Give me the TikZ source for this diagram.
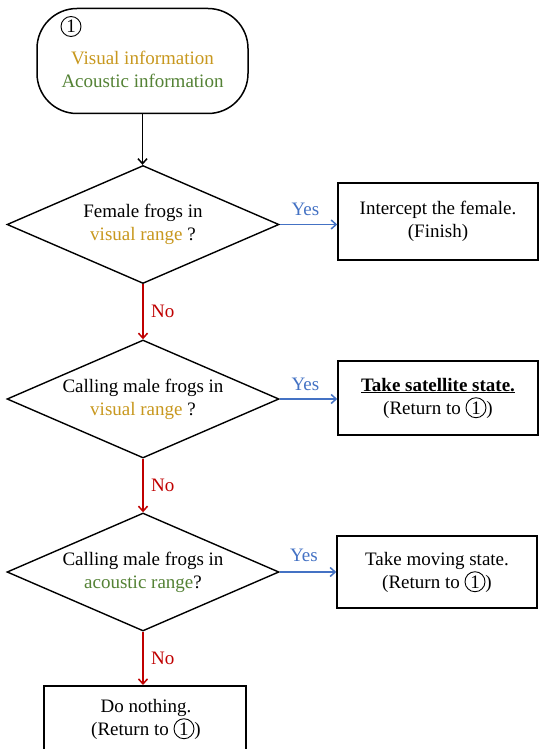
\documentclass[tikz,border=0pt]{standalone}
\usepackage{fontspec}
\setmainfont{Liberation Serif}
\usetikzlibrary{shapes.geometric,arrows.meta}
\definecolor{vis}{RGB}{200,152,30}
\definecolor{aco}{RGB}{84,130,53}
\definecolor{yesblue}{RGB}{68,114,196}
\definecolor{nored}{RGB}{192,0,0}
\newcommand{\cone}{\tikz[baseline=(cc.base)]\node[circle,draw=black,line width=0.9pt,inner sep=0pt,minimum size=20pt,text=black](cc){1};}
\begin{document}
\begin{tikzpicture}[x=1pt,y=-1pt,
 txt/.style={font=\fontsize{19}{23}\selectfont, align=center},
 term/.style={draw,line width=1.5pt,rounded corners=40pt,minimum width=211pt,minimum height=105pt,inner sep=0pt},
 dec/.style={txt,draw,diamond,shape aspect=2.3,minimum width=272pt,minimum height=118pt,inner sep=0pt,line width=1.4pt},
 act/.style={txt,draw,line width=1.5pt,minimum width=200pt,inner sep=0pt},
 flow/.style={line width=1.5pt,-{Straight Barb[length=5pt,width=9pt]}},
 yesarrow/.style={flow,yesblue},
 noarrow/.style={flow,nored},
 lab/.style={font=\fontsize{19}{23}\selectfont}]
\clip (0,0) rectangle (539,749);
\fill[white] (0,0) rectangle (539,749);

% start terminal
\node[term] (start) at (142.5,61) {};
\node[txt] (startT) at (142.5,69.5) {\textcolor{vis}{Visual information}\\\textcolor{aco}{Acoustic information}};
\node[txt,circle,draw,line width=0.9pt,minimum size=20pt,inner sep=0pt] (one) at (71,26.5) {1};

% decisions
\node[dec] (d1) at (143,224.5) {Female frogs in\\\textcolor{vis}{visual range} ?};
\node[dec] (d2) at (143,399) {Calling male frogs in\\\textcolor{vis}{visual range} ?};
\node[dec] (d3) at (143,572) {Calling male frogs in\\\textcolor{aco}{acoustic range}?};

% actions
\node[act,minimum height=77pt] (b1) at (438,221.5) {Intercept the female.\\(Finish)};
\node[act,minimum height=74pt] (b2) at (438,398) {\underline{\textbf{Take satellite state.}}\\(Return to \cone)};
\node[act,minimum height=72pt] (b3) at (437,572) {Take moving state.\\(Return to \cone)};
\node[draw,line width=1.5pt,minimum width=202pt,minimum height=100pt,anchor=north] (b4) at (145,685) {};
\node[txt] (b4T) at (146,719) {Do nothing.\\(Return to \cone)};

% connectors
\draw[flow] (start.south) -- (start.south |- d1.north);
\draw[yesarrow] (d1.east) -- (d1.east -| b1.west) node[lab,midway,above=5pt,xshift=-3pt] {Yes};
\draw[yesarrow] (d2.east) -- (d2.east -| b2.west) node[lab,midway,above=4pt,xshift=-3pt] {Yes};
\draw[yesarrow] (d3.east) -- (d3.east -| b3.west) node[lab,midway,above=6pt,xshift=-4pt] {Yes};
\draw[noarrow] (d1.south) -- (d2.north) node[lab,midway,right=4pt] {No};
\draw[noarrow] (d2.south) -- (d3.north) node[lab,midway,right=4pt] {No};
\draw[noarrow] (d3.south) -- (d3.south |- b4.north) node[lab,midway,right=4pt] {No};
\end{tikzpicture}
\end{document}
